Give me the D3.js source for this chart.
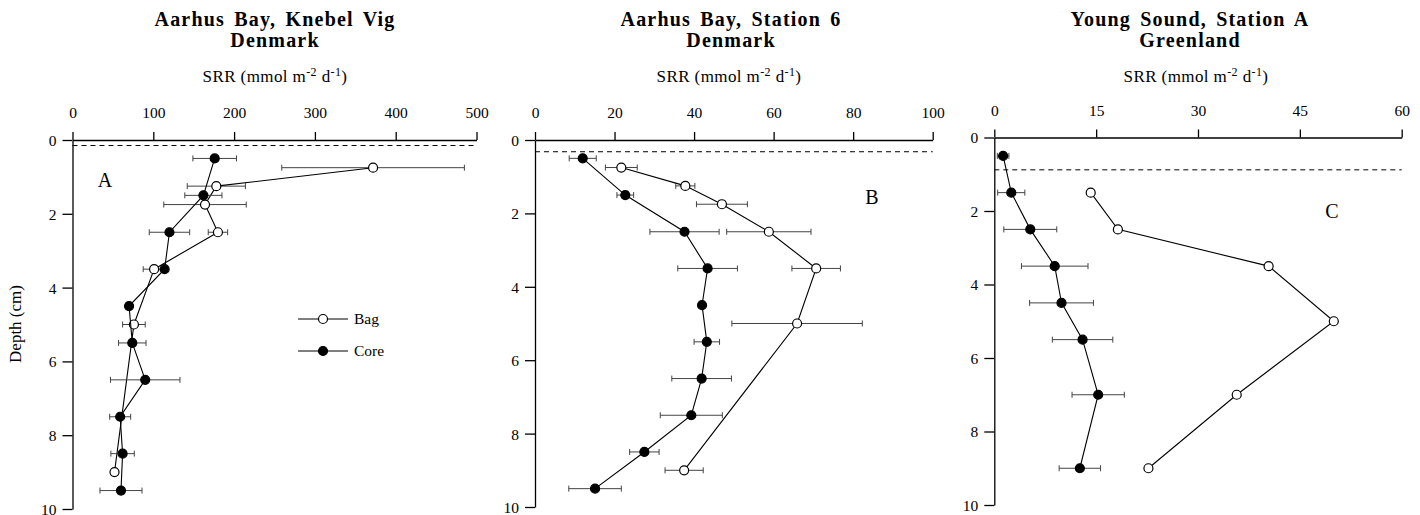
<!DOCTYPE html>
<html><head><meta charset="utf-8">
<script src="https://cdn.jsdelivr.net/npm/d3@7/dist/d3.min.js"></script>
<style>
body{margin:0;background:#fff;}
svg{display:block;}
text{font-family:"Liberation Serif","Times New Roman",serif;fill:#000;}
</style></head><body>
<svg id="chart" width="1420" height="515"></svg>
<script>
// ---------- DATA ----------
const titlesLine1 = ["Aarhus Bay, Knebel Vig", "Aarhus Bay, Station 6", "Young Sound, Station A"];
const titlesLine2 = ["Denmark", "Denmark", "Greenland"];
const panelLetters = ["A", "B", "C"];
const xTicksA = [0, 100, 200, 300, 400, 500];
const xTicksB = [0, 20, 40, 60, 80, 100];
const xTicksC = [0, 15, 30, 45, 60];
const depthTicks = [0, 2, 4, 6, 8, 10];
const seriesNames = ["Bag", "Core"];

// Panel A
const depthA_core = [0.5, 1.5, 2.5, 3.5, 4.5, 5.5, 6.5, 7.5, 8.5, 9.5];
const srrA_core   = [176, 162, 120, 114, 70, 74, 90, 59, 62, 60];
const errA_core   = [27, 23, 25, 0, 0, 17, 43, 13, 14.5, 26];
const depthA_bag  = [0.75, 1.25, 1.75, 2.5, 3.5, 5, 9];
const srrA_bag    = [372, 178, 164, 180, 101, 76, 52];
const errA_bag    = [113, 36, 51, 12, 13.5, 14, 0];
const surfaceA    = 0.15;

// Panel B
const depthB_core = [0.5, 1.5, 2.5, 3.5, 4.5, 5.5, 6.5, 7.5, 8.5, 9.5];
const srrB_core   = [12, 22.7, 37.6, 43.4, 42, 43.2, 41.9, 39.3, 27.5, 15.1];
const errB_core   = [3.4, 2.1, 8.7, 7.5, 0, 3.2, 7.5, 7.8, 3.7, 6.6];
const depthB_bag  = [0.75, 1.25, 1.75, 2.5, 3.5, 5, 9];
const srrB_bag    = [21.7, 37.8, 47, 58.8, 70.7, 65.9, 37.5];
const errB_bag    = [4, 2.4, 6.4, 10.6, 6.1, 16.4, 4.8];
const surfaceB    = 0.32;

// Panel C
const depthC_core = [0.5, 1.5, 2.5, 3.5, 4.5, 5.5, 7, 9];
const srrC_core   = [1.3, 2.5, 5.3, 8.9, 9.9, 13, 15.3, 12.6];
const errC_core   = [0.85, 2, 3.9, 4.9, 4.7, 4.45, 3.85, 3.05];
const depthC_bag  = [1.5, 2.5, 3.5, 5, 7, 9];
const srrC_bag    = [14.2, 18.2, 40.4, 50, 35.7, 22.7];
const errC_bag    = [0, 0, 0, 0, 0, 0];
const surfaceC    = 0.88;

// ---------- LAYOUT ----------
const panels = [
  {title1: titlesLine1[0], title2: titlesLine2[0], letter: panelLetters[0], xMax: 500, xTicks: xTicksA,
   core: {d: depthA_core, v: srrA_core, e: errA_core}, bag: {d: depthA_bag, v: srrA_bag, e: errA_bag}, surface: surfaceA,
   x0: 72.5, x1: 476.5, y0: 140, y1: 509, cx: 275, scx: 275, letterPos: [105, 187], legend: true, ylabel: true},
  {title1: titlesLine1[1], title2: titlesLine2[1], letter: panelLetters[1], xMax: 100, xTicks: xTicksB,
   core: {d: depthB_core, v: srrB_core, e: errB_core}, bag: {d: depthB_bag, v: srrB_bag, e: errB_bag}, surface: surfaceB,
   x0: 535, x1: 932.7, y0: 140, y1: 507, cx: 731, scx: 729, letterPos: [872, 204], legend: false, ylabel: false},
  {title1: titlesLine1[2], title2: titlesLine2[2], letter: panelLetters[2], xMax: 60, xTicks: xTicksC,
   core: {d: depthC_core, v: srrC_core, e: errC_core}, bag: {d: depthC_bag, v: srrC_bag, e: errC_bag}, surface: surfaceC,
   x0: 994.3, x1: 1401.7, y0: 137.5, y1: 505, cx: 1190, scx: 1196, letterPos: [1332, 218], legend: false, ylabel: false}
];

const svg = d3.select("#chart");

panels.forEach(p => {
  const x = d3.scaleLinear().domain([0, p.xMax]).range([p.x0, p.x1]);
  const y = d3.scaleLinear().domain([0, 10]).range([p.y0, p.y1]);
  const g = svg.append("g");

  // titles
  g.append("text").attr("x", p.cx).attr("y", 26).attr("text-anchor", "middle")
    .attr("font-size", 20).attr("font-weight", "bold").style("letter-spacing", "1.2px").style("word-spacing", "3px").text(p.title1);
  g.append("text").attr("x", p.cx).attr("y", 47).attr("text-anchor", "middle")
    .attr("font-size", 20).attr("font-weight", "bold").style("letter-spacing", "1.2px").text(p.title2);
  // subtitle
  const st = g.append("text").attr("x", p.scx).attr("y", 81.5).attr("text-anchor", "middle").attr("font-size", 17)
    .style("letter-spacing", "0.4px");
  st.append("tspan").text("SRR (mmol m");
  st.append("tspan").attr("dy", -6).attr("font-size", 12).text("-2");
  st.append("tspan").attr("dy", 6).text(" d");
  st.append("tspan").attr("dy", -6).attr("font-size", 12).text("-1");
  st.append("tspan").attr("dy", 6).text(")");

  // x axis (top)
  const xa = g.append("g").attr("transform", `translate(0,${p.y0})`)
    .call(d3.axisTop(x).tickValues(p.xTicks).tickSizeInner(8).tickSizeOuter(0).tickPadding(14).tickFormat(d3.format("d")));
  // y axis
  const ya = g.append("g").attr("transform", `translate(${p.x0},0)`)
    .call(d3.axisLeft(y).tickValues(depthTicks).tickSizeInner(10).tickSizeOuter(0).tickPadding(6).tickFormat(d3.format("d")));
  [xa, ya].forEach(a => {
    a.selectAll("path,line").attr("stroke", "#000").attr("stroke-width", 1.3);
    a.selectAll("text").attr("font-size", 15.5).attr("fill", "#000");
  });
  ya.selectAll("text").attr("dy", "0.35em");

  // surface dashed line
  g.append("line").attr("x1", x(0)).attr("x2", x(p.xMax)).attr("y1", y(p.surface)).attr("y2", y(p.surface))
    .attr("stroke", "#000").attr("stroke-width", 1).attr("stroke-dasharray", "5,4");

  const line = d3.line().x(d => x(d.v)).y(d => y(d.d));
  const toPts = s => s.d.map((d, i) => ({d: d, v: s.v[i], e: s.e[i]}));

  [["bag", false], ["core", true]].forEach(([key, filled]) => {
    const pts = toPts(p[key]);
    // error bars
    const eb = g.append("g").attr("stroke", "#444").attr("stroke-width", 1);
    pts.filter(q => q.e > 0).forEach(q => {
      eb.append("line").attr("x1", x(q.v - q.e)).attr("x2", x(q.v + q.e)).attr("y1", y(q.d)).attr("y2", y(q.d));
      eb.append("line").attr("x1", x(q.v - q.e)).attr("x2", x(q.v - q.e)).attr("y1", y(q.d) - 3).attr("y2", y(q.d) + 3);
      eb.append("line").attr("x1", x(q.v + q.e)).attr("x2", x(q.v + q.e)).attr("y1", y(q.d) - 3).attr("y2", y(q.d) + 3);
    });
    g.append("path").datum(pts).attr("d", line).attr("fill", "none").attr("stroke", "#000").attr("stroke-width", 1.1);
    g.selectAll(null).data(pts).enter().append("circle")
      .attr("cx", q => x(q.v)).attr("cy", q => y(q.d)).attr("r", 4.5)
      .attr("fill", filled ? "#000" : "#fff").attr("stroke", "#000").attr("stroke-width", 1.2);
  });

  // panel letter
  g.append("text").attr("x", p.letterPos[0]).attr("y", p.letterPos[1]).attr("text-anchor", "middle")
    .attr("font-size", 20).text(p.letter);

  if (p.ylabel) {
    g.append("text").attr("transform", `translate(21,324) rotate(-90)`)
      .attr("text-anchor", "middle").attr("font-size", 17).text("Depth (cm)");
  }
  if (p.legend) {
    seriesNames.forEach((name, i) => {
      const ly = 319 + i * 32;
      g.append("line").attr("x1", 298).attr("x2", 348).attr("y1", ly).attr("y2", ly).attr("stroke", "#000").attr("stroke-width", 1.1);
      g.append("circle").attr("cx", 323).attr("cy", ly).attr("r", 4.5)
        .attr("fill", i === 0 ? "#fff" : "#000").attr("stroke", "#000").attr("stroke-width", 1.2);
      g.append("text").attr("x", 354).attr("y", ly + 5).attr("font-size", 15.5).text(name);
    });
  }
});
</script>
</body></html>
